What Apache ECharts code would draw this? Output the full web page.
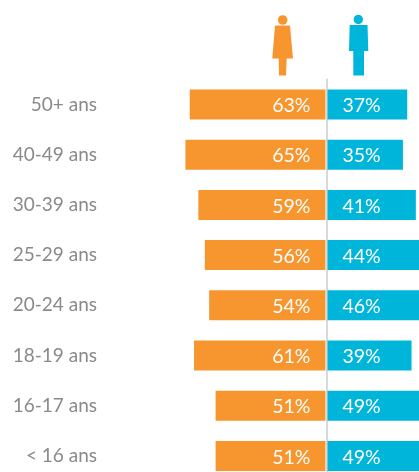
<!DOCTYPE html>
<html><head><meta charset="utf-8">
<style>html,body{margin:0;padding:0;background:#fff}#c{width:419px;height:472px}</style>
<script src="https://cdn.jsdelivr.net/npm/echarts@6/dist/echarts.min.js"></script>
</head><body><div id="c"></div>
<script>
const categories = ['50+ ans','40-49 ans','30-39 ans','25-29 ans','20-24 ans','18-19 ans','16-17 ans','< 16 ans'];
const women = [63,65,59,56,54,61,51,51];
const men = [37,35,41,44,46,39,49,49];
const FONT = 'Lato';
const chart = echarts.init(document.getElementById('c'), null, {renderer:'canvas'});
const label = (pos) => ({show:true, position:pos, distance:15, offset:[0,1.5], formatter:'{c}%', color:'#fff', fontFamily:FONT, fontSize:19.5});
chart.setOption({
  animation:false,
  backgroundColor:'#fff',
  grid:[
    {left:110, top:79.4, width:215.5, height:401.6, outerBoundsMode:'none'},
    {left:327.5, top:79.4, width:215.5, height:401.6, outerBoundsMode:'none'}
  ],
  xAxis:[
    {gridIndex:0, type:'value', min:0, max:100, inverse:true, show:false},
    {gridIndex:1, type:'value', min:0, max:100, show:false}
  ],
  yAxis:[
    {gridIndex:0, type:'category', data:categories, inverse:true, position:'left',
     axisLine:{show:false, onZero:false}, axisTick:{show:false}, splitLine:{show:false},
     axisLabel:{margin:13, color:'#8a8a8a', fontFamily:FONT, fontSize:19, padding:[4,0,0,0]}},
    {gridIndex:1, type:'category', data:categories, inverse:true, position:'left', offset:1,
     axisLine:{show:true, onZero:false, lineStyle:{color:'#d9d9d9', width:2}},
     axisTick:{show:false}, axisLabel:{show:false}, splitLine:{show:false}}
  ],
  series:[
    {name:'Femmes', type:'bar', xAxisIndex:0, yAxisIndex:0, data:women, barWidth:30,
     itemStyle:{color:'#F7962F'}, label:label('insideRight')},
    {name:'Hommes', type:'bar', xAxisIndex:1, yAxisIndex:1, data:men, barWidth:30,
     itemStyle:{color:'#00B5DA'}, label:label('insideLeft')}
  ],
  graphic:[
    {type:'circle', shape:{cx:282.7, cy:20, r:4.8}, style:{fill:'#F7962F'}},
    {type:'polygon', shape:{points:[[275,25.5],[290,25.5],[293,58.5],[286.7,58.5],[286,75.5],[279,75.5],[278.7,58.5],[272.3,58.5]]}, style:{fill:'#F7962F'}},
    {type:'circle', shape:{cx:358.3, cy:19.5, r:4.7}, style:{fill:'#00B5DA'}},
    {type:'polygon', shape:{points:[[349.7,25],[367.5,25],[368.3,51],[364,51],[364,75.5],[353.3,75.5],[353.3,51],[349,51]]}, style:{fill:'#00B5DA'}}
  ]
});
</script></body></html>
